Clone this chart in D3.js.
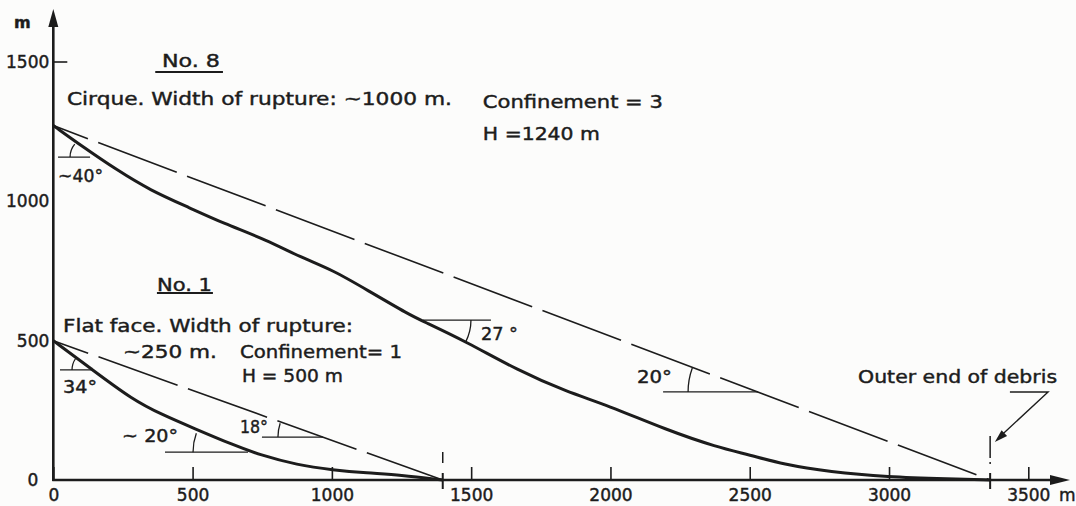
<!DOCTYPE html>
<html>
<head>
<meta charset="utf-8">
<script src="https://cdn.jsdelivr.net/npm/d3@7"></script>
<style>
  body { margin: 0; background: #fcfcfb; }
  svg { display: block; }
  text { font-family: "DejaVu Sans", sans-serif; fill: #1c1c1c; stroke: #1c1c1c; stroke-width: 0.45px; }
</style>
</head>
<body>
<script>
// profiles (distance m, height m)
const no8Dist   = [0, 107, 229, 347, 491, 609, 767, 886, 1004, 1126, 1280, 1327, 1485, 1664, 1844, 1988, 2203, 2382, 2501, 2619, 2788, 2993, 3219, 3363];
const no8Height = [1272, 1195, 1112, 1040, 976, 922, 861, 800, 753, 682, 592, 570, 495, 395, 316, 269, 179, 118, 90, 56, 29, 11, 4, 0];
const no1Dist   = [0, 132, 286, 394, 501, 645, 742, 875, 1004, 1126, 1245, 1398];
const no1Height = [500, 402, 287, 233, 187, 126, 90, 54, 36, 25, 18, 0];

// outer end of debris for each slide
const debrisEnds = [1398, 3363];

const xTicks = [0, 500, 1000, 1500, 2000, 2500, 3000, 3500];
const yTicks = [500, 1000, 1500];

// angle marks: vertex (m), horizontal line end (m), angle deg, side
const angleMarks = [
  { vx: 132,  vy: 1159, hx: 17,   deg: 40, side: "left",  r: 20 },
  { vx: 139,  vy: 395,  hx: 24,   deg: 34, side: "left",  r: 20 },
  { vx: 699,  vy: 100,  hx: 401,  deg: 20, side: "left",  r: 55 },
  { vx: 968,  vy: 154,  hx: 749,  deg: 18, side: "left",  r: 45 },
  { vx: 1327, vy: 574,  hx: 1571, deg: 27, side: "right", r: 48 },
  { vx: 2530, vy: 316,  hx: 2189, deg: 20, side: "left",  r: 70 }
];

// labels (position in m, drawn width in px)
const labels = [
  { t: "No. 8", x: 390, y: 1482, w: 58 },
  { t: "Cirque. Width of rupture: ~1000 m.", x: 49, y: 1346, w: 385 },
  { t: "Confinement = 3", x: 1542, y: 1336, w: 180 },
  { t: "H =1240 m", x: 1542, y: 1220, w: 117 },
  { t: "~40°", x: 17, y: 1069, w: 45 },
  { t: "No. 1", x: 372, y: 678, w: 55 },
  { t: "Flat face. Width of rupture:", x: 35, y: 531, w: 290 },
  { t: "~250 m.", x: 250, y: 438, w: 94 },
  { t: "Confinement= 1", x: 670, y: 438, w: 162 },
  { t: "H = 500 m", x: 677, y: 352, w: 101 },
  { t: "34°", x: 35, y: 312, w: 34 },
  { t: "~ 20°", x: 247, y: 136, w: 56 },
  { t: "18°", x: 670, y: 169, w: 28 },
  { t: "27 °", x: 1535, y: 502, w: 37 },
  { t: "20°", x: 2095, y: 348, w: 35 },
  { t: "Outer end of debris", x: 2889, y: 348, w: 199 }
];

const underlines = [
  { x1: 366, x2: 609, y: 1464 },
  { x1: 372, x2: 573, y: 671 }
];

const width = 1076, height = 506;
const ink = "#1c1c1c";

const svg = d3.select("body").append("svg")
  .attr("width", width)
  .attr("height", height);

const x = d3.scaleLinear().domain([0, 3500]).range([53.3, 1028.3]);
const y = d3.scaleLinear().domain([0, 1500]).range([480, 62]);

// x axis with upward ticks
const xAxis = d3.axisBottom(x)
  .tickValues(xTicks)
  .tickSizeInner(-13)
  .tickSizeOuter(0)
  .tickPadding(9)
  .tickFormat(d3.format("d"));

const gx = svg.append("g")
  .attr("transform", `translate(0,${y(0)})`)
  .call(xAxis);
gx.select(".domain").remove();
gx.selectAll(".tick line").attr("stroke", ink).attr("stroke-width", 1.6);
gx.selectAll(".tick text").style("font-size", "17px").attr("fill", ink);

// y axis labels only
const yAxis = d3.axisLeft(y)
  .tickValues(yTicks)
  .tickSize(0)
  .tickPadding(4)
  .tickFormat(d3.format("d"));
const gy = svg.append("g")
  .attr("transform", `translate(${x(0)},0)`)
  .call(yAxis);
gy.select(".domain").remove();
gy.selectAll(".tick text").style("font-size", "17px").attr("fill", ink);

svg.append("text")
  .attr("x", x(0) - 15).attr("y", y(0))
  .attr("dy", "0.35em")
  .attr("text-anchor", "end")
  .style("font-size", "17px")
  .text("0");

// 1500 tick on the inside
svg.append("line")
  .attr("x1", x(0)).attr("x2", x(0) + 14)
  .attr("y1", y(1500)).attr("y2", y(1500))
  .attr("stroke", ink).attr("stroke-width", 1.6);

// axis lines with arrows
svg.append("line")
  .attr("x1", x(0)).attr("x2", x(0))
  .attr("y1", y(0) + 1).attr("y2", 22)
  .attr("stroke", ink).attr("stroke-width", 2.6);
svg.append("path")
  .attr("d", `M${x(0)},9 L${x(0) - 5},27 L${x(0) + 5},27 Z`)
  .attr("fill", ink);

svg.append("line")
  .attr("x1", x(0) - 1).attr("x2", 1056)
  .attr("y1", y(0)).attr("y2", y(0))
  .attr("stroke", ink).attr("stroke-width", 2.4);
svg.append("path")
  .attr("d", `M1070,${y(0)} L1050,${y(0) - 5} L1050,${y(0) + 5} Z`)
  .attr("fill", ink);

svg.append("text")
  .attr("x", 1059).attr("y", 501)
  .style("font-size", "17px")
  .text("m");
svg.append("text")
  .attr("x", 14).attr("y", 28)
  .style("font-size", "16px")
  .style("font-weight", "bold")
  .text("m");

// reach lines (dashed), from top of scar to outer end of debris
const reach = [
  [[no8Dist[0], no8Height[0]], [debrisEnds[1], 0]],
  [[no1Dist[0], no1Height[0]], [debrisEnds[0], 0]]
];
const straight = d3.line().x(d => x(d[0])).y(d => y(d[1]));
svg.selectAll(".reach")
  .data(reach)
  .enter().append("path")
  .attr("class", "reach")
  .attr("d", straight)
  .attr("fill", "none")
  .attr("stroke", ink)
  .attr("stroke-width", 1.6)
  .attr("stroke-dasharray", "84,11")
  .attr("stroke-dashoffset", 47);

// slide profiles
const profile = d3.line()
  .x(d => x(d[0]))
  .y(d => y(d[1]))
  .curve(d3.curveBasis);

svg.append("path")
  .datum(d3.zip(no8Dist, no8Height))
  .attr("d", profile)
  .attr("fill", "none")
  .attr("stroke", ink)
  .attr("stroke-width", 3);

svg.append("path")
  .datum(d3.zip(no1Dist, no1Height))
  .attr("d", profile)
  .attr("fill", "none")
  .attr("stroke", ink)
  .attr("stroke-width", 3);

// dash-dot markers at outer end of debris
debrisEnds.forEach((d, i) => {
  const top = i === 0 ? 452 : 436;
  svg.append("line")
    .attr("x1", x(d)).attr("x2", x(d))
    .attr("y1", top).attr("y2", 468 - (i === 0 ? 0 : 4))
    .attr("stroke", ink).attr("stroke-width", 1.5)
    .attr("stroke-dasharray", i === 0 ? "11,5,2,4" : "22,4,2,4");
  svg.append("line")
    .attr("x1", x(d)).attr("x2", x(d))
    .attr("y1", 473).attr("y2", 489)
    .attr("stroke", ink).attr("stroke-width", 2);
});

// angle marks
angleMarks.forEach(a => {
  const vx = x(a.vx), vy = y(a.vy);
  svg.append("line")
    .attr("x1", x(a.hx)).attr("x2", vx)
    .attr("y1", vy).attr("y2", vy)
    .attr("stroke", ink).attr("stroke-width", 1.3);
  const rad = a.deg * Math.PI / 180;
  let p0, p1;
  if (a.side === "left") {
    p0 = [vx - a.r, vy];
    p1 = [vx - a.r * Math.cos(rad), vy - a.r * Math.sin(rad)];
  } else {
    p0 = [vx + a.r, vy];
    p1 = [vx + a.r * Math.cos(rad), vy + a.r * Math.sin(rad)];
  }
  svg.append("path")
    .attr("d", `M${p0[0]},${p0[1]} A${a.r},${a.r} 0 0 1 ${p1[0]},${p1[1]}`)
    .attr("fill", "none")
    .attr("stroke", ink)
    .attr("stroke-width", 1.3);
});

// labels
svg.selectAll(".lab")
  .data(labels)
  .enter().append("text")
  .attr("class", "lab")
  .attr("x", d => x(d.x))
  .attr("y", d => y(d.y))
  .attr("textLength", d => d.w)
  .attr("lengthAdjust", "spacingAndGlyphs")
  .style("font-size", "18px")
  .text(d => d.t);

svg.selectAll(".ul")
  .data(underlines)
  .enter().append("line")
  .attr("class", "ul")
  .attr("x1", d => x(d.x1)).attr("x2", d => x(d.x2))
  .attr("y1", d => y(d.y)).attr("y2", d => y(d.y))
  .attr("stroke", ink).attr("stroke-width", 2);

// leader arrow to outer end of debris
svg.append("path")
  .attr("d", `M${x(3434)},${y(316)} L${x(3571)},${y(316)} L${x(3392)},${y(150)}`)
  .attr("fill", "none")
  .attr("stroke", ink)
  .attr("stroke-width", 1.4);
(function () {
  const tip = [x(3380), y(136)];
  const from = [x(3571), y(316)];
  const ang = Math.atan2(tip[1] - from[1], tip[0] - from[0]);
  const len = 13, half = 4;
  const bx = tip[0] - len * Math.cos(ang), by = tip[1] - len * Math.sin(ang);
  const nx = -Math.sin(ang) * half, ny = Math.cos(ang) * half;
  svg.append("path")
    .attr("d", `M${tip[0]},${tip[1]} L${bx + nx},${by + ny} L${bx - nx},${by - ny} Z`)
    .attr("fill", ink);
})();
</script>
</body>
</html>
